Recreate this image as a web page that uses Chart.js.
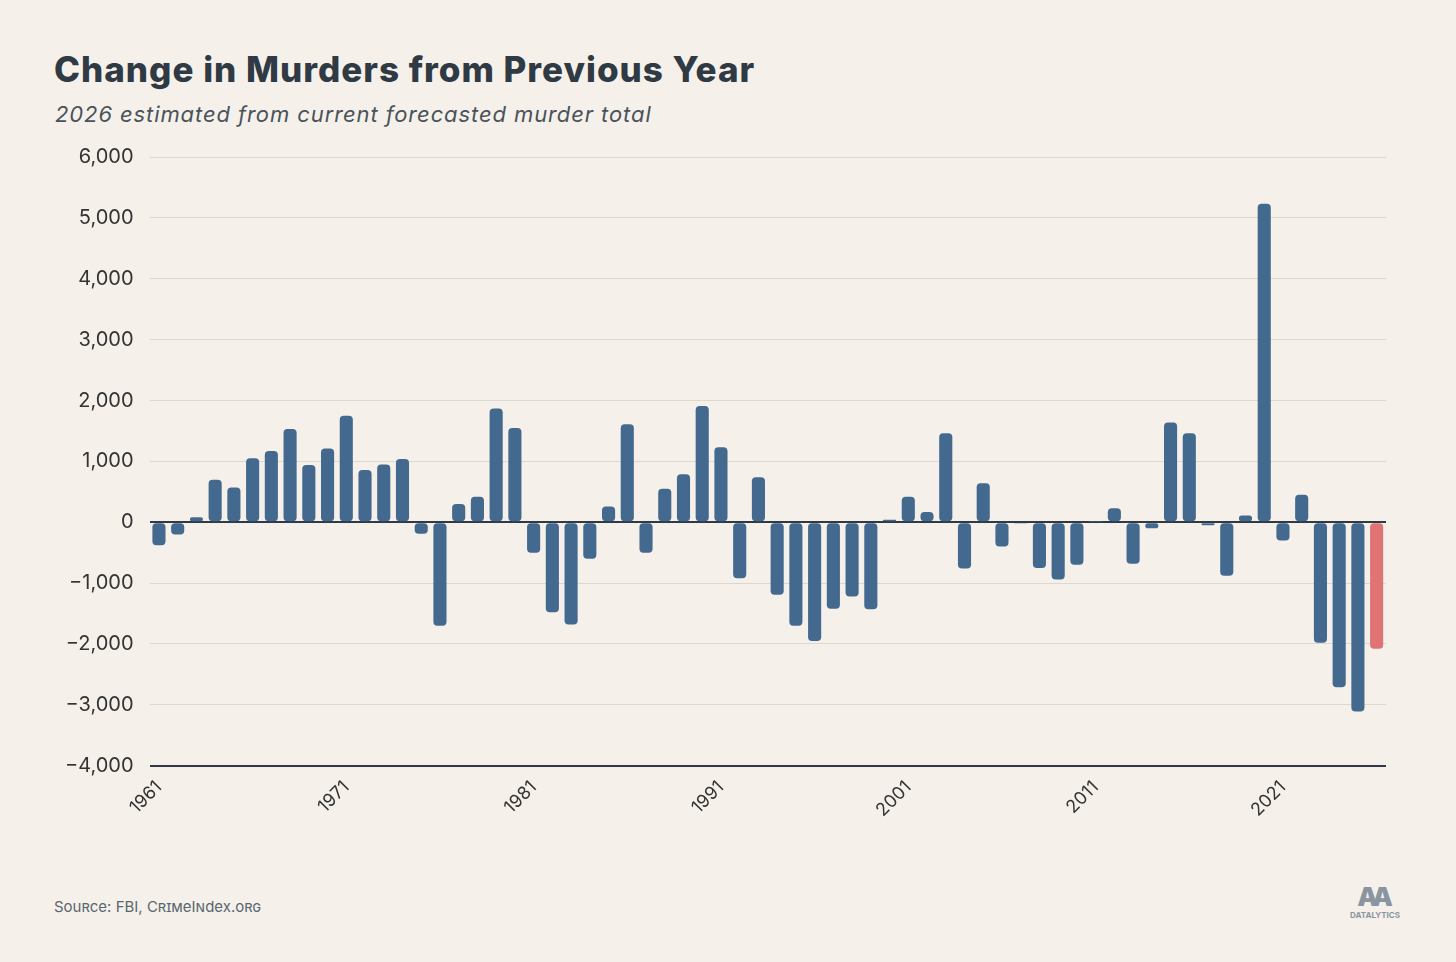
<!DOCTYPE html>
<html><head><meta charset="utf-8">
<script src="https://cdn.jsdelivr.net/npm/chart.js@4"></script>
<style>
body{margin:0;background:#f5f1ea;width:1456px;height:962px;overflow:hidden;font-family:Inter,"Noto Sans",sans-serif;position:relative}
#t{position:absolute;left:54px;top:48px;font-size:35px;font-weight:800;color:#2f3a44;letter-spacing:1px}
#s{position:absolute;left:55px;top:101px;font-size:22px;font-style:italic;color:#4a525a;letter-spacing:0.9px}
#src{position:absolute;left:54px;top:897px;font-size:15px;color:#5a6670;font-variant:small-caps}
#logo{position:absolute;left:1346px;top:884px;width:58px;text-align:center;color:#8a95a0;font-size:8px;font-weight:700}
#logo b{display:block;font-size:26px;line-height:26px;letter-spacing:-6px;margin-left:-6px}
#w{position:absolute;left:49px;top:129px;width:1351px;height:695px}
</style></head><body>
<div id="t">Change in Murders from Previous Year</div>
<div id="s">2026 estimated from current forecasted murder total</div>
<div id="src">Source: FBI, CrimeIndex.org</div>
<div id="logo"><b>AA</b>DATALYTICS</div>
<div id="w"><canvas id="c"></canvas></div>
<script>
const years=[];for(let y=1961;y<=2026;y++)years.push(String(y));
const changes=[-380,-200,80,700,570,1050,1170,1530,940,1210,1750,860,950,1040,-190,-1700,300,420,1870,1550,
-500,-1480,-1680,-600,260,1610,-500,550,790,1910,1230,-920,740,-1190,-1700,-1950,-1420,-1220,-1430,40,
420,170,1460,-760,640,-400,-20,-750,-940,-700,10,230,-680,-100,1640,1460,-50,-880,110,5230,
-300,450,-1980,-2710,-3110,-2080];
const yTicks=[-4000,-3000,-2000,-1000,0,1000,2000,3000,4000,5000,6000];
new Chart(document.getElementById('c'),{type:'bar',
data:{labels:years,datasets:[{data:changes,
backgroundColor:years.map(y=>y==='2026'?'#e07474':'#44698f'),
borderRadius:4,borderSkipped:false,categoryPercentage:1,barPercentage:0.7}]},
options:{responsive:true,maintainAspectRatio:false,animation:false,
layout:{padding:{right:14,top:6}},
plugins:{legend:{display:false},tooltip:{enabled:false}},
scales:{
x:{grid:{display:false},border:{display:false},
ticks:{autoSkip:false,maxRotation:45,minRotation:45,color:'#333',font:{size:18,family:'Inter'},
callback:function(v,i){return (1961+i)%10===1?years[i]:'';}}},
y:{min:-4000,max:6000,afterBuildTicks:a=>{a.ticks=yTicks.map(v=>({value:v}));},
border:{display:false},
grid:{color:c=>(c.tick.value===0||c.tick.value===-4000)?'#2f3a44':'#dcd8d0',lineWidth:c=>(c.tick.value===0||c.tick.value===-4000)?2:1,drawTicks:false},
ticks:{padding:16,color:'#333',font:{size:20,family:'Inter'},callback:v=>v===0?'0':(v<0?'\u2212'+Math.abs(v).toLocaleString('en-US'):v.toLocaleString('en-US'))}}
}}});
</script></body></html>
